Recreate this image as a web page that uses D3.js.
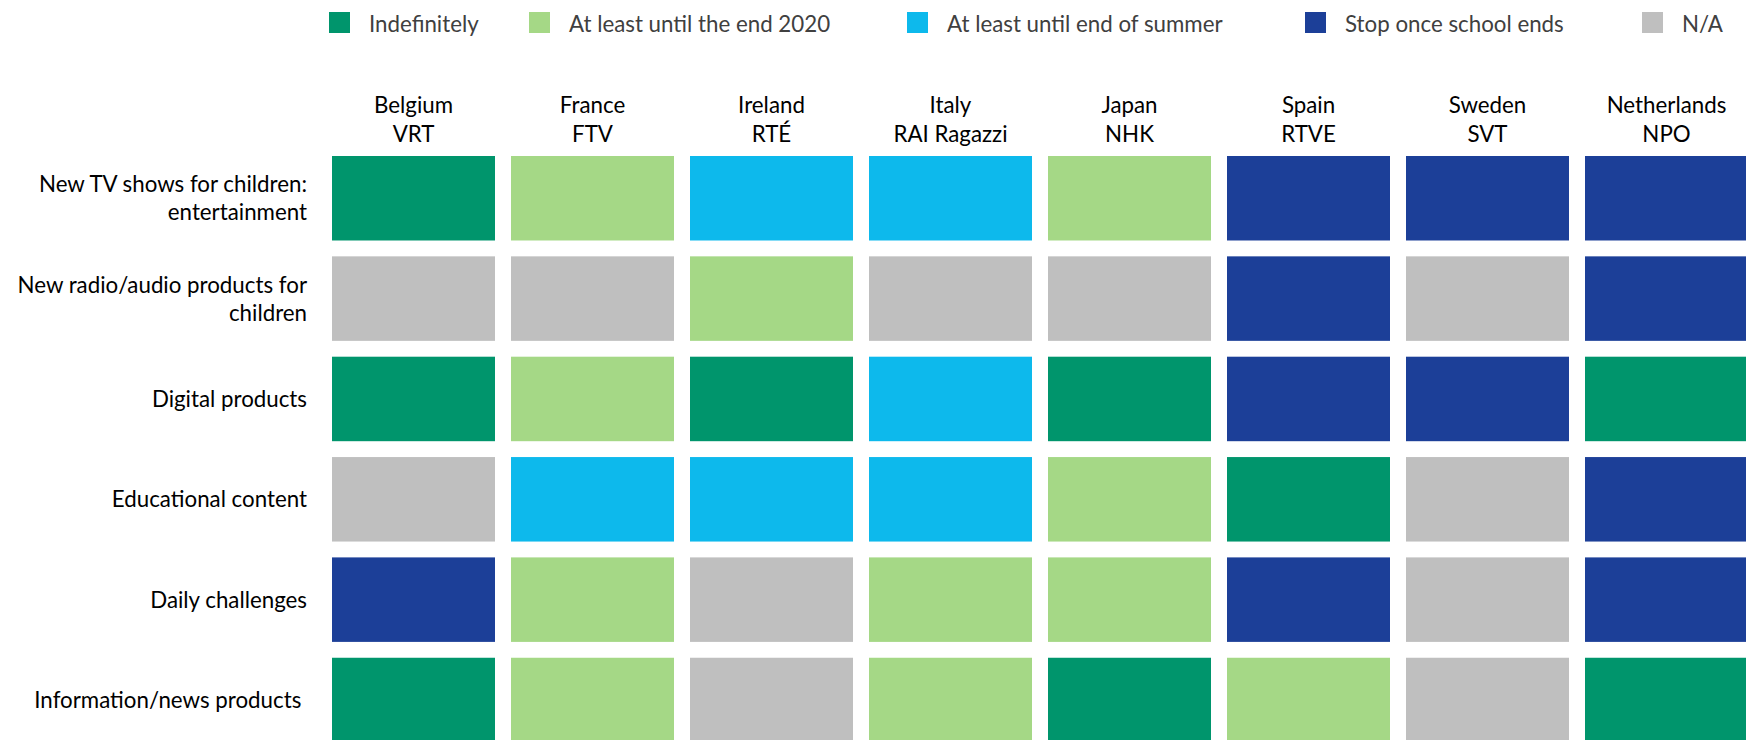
<!DOCTYPE html>
<html>
<head>
<meta charset="utf-8">
<script src="https://cdn.jsdelivr.net/npm/d3@7"></script>
<style>
  html, body { margin: 0; padding: 0; background: #fff; }
  svg { display: block; }
  text { font-family: Lato, "Open Sans", sans-serif; }
</style>
</head>
<body>
<svg id="chart" width="1746" height="740"></svg>
<script>
// ---- data ----
const countries = ["Belgium", "France", "Ireland", "Italy", "Japan", "Spain", "Sweden", "Netherlands"];
const broadcasters = ["VRT", "FTV", "RTÉ", "RAI Ragazzi", "NHK", "RTVE", "SVT", "NPO"];
const products = [
  "New TV shows for children: entertainment",
  "New radio/audio products for children",
  "Digital products",
  "Educational content",
  "Daily challenges",
  "Information/news products"
];
const productLines = [
  ["New TV shows for children:", "entertainment"],
  ["New radio/audio products for", "children"],
  ["Digital products"],
  ["Educational content"],
  ["Daily challenges"],
  ["Information/news products "]
];
const categories = ["Indefinitely", "At least until the end 2020", "At least until end of summer", "Stop once school ends", "N/A"];
// one row per product, one entry per country
const rowTV        = ["Indefinitely", "At least until the end 2020", "At least until end of summer", "At least until end of summer", "At least until the end 2020", "Stop once school ends", "Stop once school ends", "Stop once school ends"];
const rowRadio     = ["N/A", "N/A", "At least until the end 2020", "N/A", "N/A", "Stop once school ends", "N/A", "Stop once school ends"];
const rowDigital   = ["Indefinitely", "At least until the end 2020", "Indefinitely", "At least until end of summer", "Indefinitely", "Stop once school ends", "Stop once school ends", "Indefinitely"];
const rowEducation = ["N/A", "At least until end of summer", "At least until end of summer", "At least until end of summer", "At least until the end 2020", "Indefinitely", "N/A", "Stop once school ends"];
const rowDaily     = ["Stop once school ends", "At least until the end 2020", "N/A", "At least until the end 2020", "At least until the end 2020", "Stop once school ends", "N/A", "Stop once school ends"];
const rowNews      = ["Indefinitely", "At least until the end 2020", "N/A", "At least until the end 2020", "Indefinitely", "At least until the end 2020", "N/A", "Indefinitely"];
const rows = [rowTV, rowRadio, rowDigital, rowEducation, rowDaily, rowNews];

// ---- styles / layout ----
const colors = ["#00956c", "#a5d886", "#0db9ec", "#1c3f98", "#bfbfbf"];
const legendSquareX = [329, 529, 907, 1305, 1642];

const svg = d3.select("#chart");

const x = d3.scaleBand().domain(countries).range([332, 1748]).paddingInner(16 / 179).paddingOuter(0);
const y = d3.scaleBand().domain(products).range([156, 742.25]).paddingInner(0.158).paddingOuter(0);
const color = d3.scaleOrdinal().domain(categories).range(colors);

const cells = [];
rows.forEach((r, i) => r.forEach((v, j) => cells.push({ product: products[i], country: countries[j], value: v })));

svg.append("g").selectAll("rect").data(cells).join("rect")
  .attr("x", d => x(d.country))
  .attr("y", d => y(d.product))
  .attr("width", x.bandwidth())
  .attr("height", y.bandwidth())
  .attr("fill", d => color(d.value));

const fs = 22.3;

// column headers
const hdr = svg.append("g").attr("font-size", fs).attr("fill", "#000").attr("text-anchor", "middle");
countries.forEach((c, j) => {
  const cx = x(c) + x.bandwidth() / 2;
  hdr.append("text").attr("x", cx).attr("y", 113.3).text(c);
  hdr.append("text").attr("x", cx).attr("y", 141.7).text(broadcasters[j]);
});

// row labels
const rl = svg.append("g").attr("font-size", fs).attr("fill", "#000").attr("text-anchor", "end");
products.forEach((p, i) => {
  const lines = productLines[i];
  const cy = y(p) + y.bandwidth() / 2;
  const lh = 28;
  lines.forEach((ln, k) => {
    rl.append("text")
      .attr("x", 307)
      .attr("y", cy + 8 + (k - (lines.length - 1) / 2) * lh)
      .style("white-space", "pre")
      .text(ln);
  });
});

// legend
const lg = svg.append("g");
categories.forEach((c, i) => {
  const lx = legendSquareX[i];
  lg.append("rect").attr("x", lx).attr("y", 12).attr("width", 21).attr("height", 21).attr("fill", color(c));
  lg.append("text").attr("x", lx + 40).attr("y", 31.7).attr("font-size", fs).attr("fill", "#404040").text(c);
});
</script>
</body>
</html>
